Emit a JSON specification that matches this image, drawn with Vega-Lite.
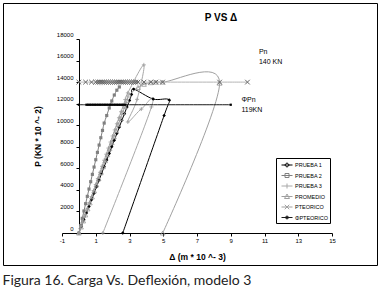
{
  "$schema": "https://vega.github.io/schema/vega-lite/v6.json",
  "background": "white",
  "padding": {"left": 2, "top": 2, "right": 0, "bottom": 0},
  "config": {"view": {"stroke": "#000", "strokeWidth": 1}, "font": "Liberation Sans", "axis": {"grid": false}},
  "title": {"text": "Figura 16. Carga Vs. Deflexión, modelo 3", "orient": "bottom", "anchor": "start", "font": "Lato", "fontSize": 14, "fontWeight": "normal", "color": "#222", "offset": 8},
  "datasets": {
    "pts": [
      {"s": "PRUEBA 1", "i": 0, "x": 0, "y": 0},
      {"s": "PRUEBA 1", "i": 1, "x": 0.15, "y": 600},
      {"s": "PRUEBA 1", "i": 2, "x": 0.3, "y": 1230},
      {"s": "PRUEBA 1", "i": 3, "x": 0.45, "y": 1850},
      {"s": "PRUEBA 1", "i": 4, "x": 0.6, "y": 2460},
      {"s": "PRUEBA 1", "i": 5, "x": 0.75, "y": 3080},
      {"s": "PRUEBA 1", "i": 6, "x": 0.9, "y": 3690},
      {"s": "PRUEBA 1", "i": 7, "x": 1.05, "y": 4300},
      {"s": "PRUEBA 1", "i": 8, "x": 1.2, "y": 4920},
      {"s": "PRUEBA 1", "i": 9, "x": 1.35, "y": 5540},
      {"s": "PRUEBA 1", "i": 10, "x": 1.5, "y": 6150},
      {"s": "PRUEBA 1", "i": 11, "x": 1.65, "y": 6770},
      {"s": "PRUEBA 1", "i": 12, "x": 1.8, "y": 7380},
      {"s": "PRUEBA 1", "i": 13, "x": 1.95, "y": 8000},
      {"s": "PRUEBA 1", "i": 14, "x": 2.1, "y": 8610},
      {"s": "PRUEBA 1", "i": 15, "x": 2.25, "y": 9230},
      {"s": "PRUEBA 1", "i": 16, "x": 2.4, "y": 9840},
      {"s": "PRUEBA 1", "i": 17, "x": 2.55, "y": 10460},
      {"s": "PRUEBA 1", "i": 18, "x": 2.7, "y": 11070},
      {"s": "PRUEBA 1", "i": 19, "x": 2.85, "y": 11690},
      {"s": "PRUEBA 1", "i": 20, "x": 3.0, "y": 12300},
      {"s": "PRUEBA 1", "i": 21, "x": 3.12, "y": 12850},
      {"s": "PRUEBA 1", "i": 22, "x": 3.25, "y": 13350},
      {"s": "PRUEBA 1", "i": 23, "x": 4.4, "y": 12430},
      {"s": "PRUEBA 1", "i": 24, "x": 5.35, "y": 12340},
      {"s": "PRUEBA 1", "i": 25, "x": 5.05, "y": 10900},
      {"s": "PRUEBA 1", "i": 26, "x": 2.6, "y": 0},

      {"s": "PRUEBA 2", "i": 0, "x": 0, "y": 0},
      {"s": "PRUEBA 2", "i": 1, "x": 0.1, "y": 680},
      {"s": "PRUEBA 2", "i": 2, "x": 0.2, "y": 1360},
      {"s": "PRUEBA 2", "i": 3, "x": 0.3, "y": 2040},
      {"s": "PRUEBA 2", "i": 4, "x": 0.4, "y": 2720},
      {"s": "PRUEBA 2", "i": 5, "x": 0.5, "y": 3400},
      {"s": "PRUEBA 2", "i": 6, "x": 0.6, "y": 4080},
      {"s": "PRUEBA 2", "i": 7, "x": 0.7, "y": 4760},
      {"s": "PRUEBA 2", "i": 8, "x": 0.8, "y": 5440},
      {"s": "PRUEBA 2", "i": 9, "x": 0.9, "y": 6120},
      {"s": "PRUEBA 2", "i": 10, "x": 1.0, "y": 6800},
      {"s": "PRUEBA 2", "i": 11, "x": 1.1, "y": 7480},
      {"s": "PRUEBA 2", "i": 12, "x": 1.2, "y": 8160},
      {"s": "PRUEBA 2", "i": 13, "x": 1.3, "y": 8840},
      {"s": "PRUEBA 2", "i": 14, "x": 1.4, "y": 9520},
      {"s": "PRUEBA 2", "i": 15, "x": 1.5, "y": 10200},
      {"s": "PRUEBA 2", "i": 16, "x": 1.65, "y": 10900},
      {"s": "PRUEBA 2", "i": 17, "x": 1.8, "y": 11600},
      {"s": "PRUEBA 2", "i": 18, "x": 1.95, "y": 12250},
      {"s": "PRUEBA 2", "i": 19, "x": 2.1, "y": 12800},
      {"s": "PRUEBA 2", "i": 20, "x": 2.25, "y": 13250},
      {"s": "PRUEBA 2", "i": 21, "x": 2.4, "y": 13550},

      {"s": "PRUEBA 3", "i": 0, "x": 0, "y": 0},
      {"s": "PRUEBA 3", "i": 1, "x": 0.125, "y": 560},
      {"s": "PRUEBA 3", "i": 2, "x": 0.25, "y": 1120},
      {"s": "PRUEBA 3", "i": 3, "x": 0.375, "y": 1690},
      {"s": "PRUEBA 3", "i": 4, "x": 0.5, "y": 2250},
      {"s": "PRUEBA 3", "i": 5, "x": 0.625, "y": 2810},
      {"s": "PRUEBA 3", "i": 6, "x": 0.75, "y": 3380},
      {"s": "PRUEBA 3", "i": 7, "x": 0.875, "y": 3940},
      {"s": "PRUEBA 3", "i": 8, "x": 1.0, "y": 4500},
      {"s": "PRUEBA 3", "i": 9, "x": 1.125, "y": 5060},
      {"s": "PRUEBA 3", "i": 10, "x": 1.25, "y": 5630},
      {"s": "PRUEBA 3", "i": 11, "x": 1.375, "y": 6190},
      {"s": "PRUEBA 3", "i": 12, "x": 1.5, "y": 6750},
      {"s": "PRUEBA 3", "i": 13, "x": 1.625, "y": 7310},
      {"s": "PRUEBA 3", "i": 14, "x": 1.75, "y": 7880},
      {"s": "PRUEBA 3", "i": 15, "x": 1.875, "y": 8440},
      {"s": "PRUEBA 3", "i": 16, "x": 2.0, "y": 9000},
      {"s": "PRUEBA 3", "i": 17, "x": 2.125, "y": 9560},
      {"s": "PRUEBA 3", "i": 18, "x": 2.25, "y": 10130},
      {"s": "PRUEBA 3", "i": 19, "x": 2.375, "y": 10690},
      {"s": "PRUEBA 3", "i": 20, "x": 2.5, "y": 11250},
      {"s": "PRUEBA 3", "i": 21, "x": 2.625, "y": 11810},
      {"s": "PRUEBA 3", "i": 22, "x": 2.75, "y": 12380},
      {"s": "PRUEBA 3", "i": 23, "x": 2.9, "y": 13000},
      {"s": "PRUEBA 3", "i": 24, "x": 3.85, "y": 15600},
      {"s": "PRUEBA 3", "i": 25, "x": 3.45, "y": 12400},
      {"s": "PRUEBA 3", "i": 26, "x": 2.9, "y": 10300},
      {"s": "PRUEBA 3", "i": 27, "x": 3.7, "y": 11500},
      {"s": "PRUEBA 3", "i": 28, "x": 4.3, "y": 11700},
      {"s": "PRUEBA 3", "i": 29, "x": 1.42, "y": 0},

      {"s": "PROMEDIO", "i": 0, "x": 0, "y": 0},
      {"s": "PROMEDIO", "i": 1, "x": 0.13, "y": 560},
      {"s": "PROMEDIO", "i": 2, "x": 0.26, "y": 1120},
      {"s": "PROMEDIO", "i": 3, "x": 0.39, "y": 1680},
      {"s": "PROMEDIO", "i": 4, "x": 0.52, "y": 2240},
      {"s": "PROMEDIO", "i": 5, "x": 0.65, "y": 2800},
      {"s": "PROMEDIO", "i": 6, "x": 0.78, "y": 3350},
      {"s": "PROMEDIO", "i": 7, "x": 0.91, "y": 3910},
      {"s": "PROMEDIO", "i": 8, "x": 1.04, "y": 4470},
      {"s": "PROMEDIO", "i": 9, "x": 1.17, "y": 5030},
      {"s": "PROMEDIO", "i": 10, "x": 1.3, "y": 5590},
      {"s": "PROMEDIO", "i": 11, "x": 1.43, "y": 6150},
      {"s": "PROMEDIO", "i": 12, "x": 1.56, "y": 6710},
      {"s": "PROMEDIO", "i": 13, "x": 1.69, "y": 7270},
      {"s": "PROMEDIO", "i": 14, "x": 1.82, "y": 7830},
      {"s": "PROMEDIO", "i": 15, "x": 1.95, "y": 8390},
      {"s": "PROMEDIO", "i": 16, "x": 2.08, "y": 8940},
      {"s": "PROMEDIO", "i": 17, "x": 2.21, "y": 9500},
      {"s": "PROMEDIO", "i": 18, "x": 2.34, "y": 10060},
      {"s": "PROMEDIO", "i": 19, "x": 2.47, "y": 10620},
      {"s": "PROMEDIO", "i": 20, "x": 2.6, "y": 11180},
      {"s": "PROMEDIO", "i": 21, "x": 2.73, "y": 11740},
      {"s": "PROMEDIO", "i": 22, "x": 2.86, "y": 12300},
      {"s": "PROMEDIO", "i": 23, "x": 2.98, "y": 12800},
      {"s": "PROMEDIO", "i": 24, "x": 3.5, "y": 13500},
      {"s": "PROMEDIO", "i": 25, "x": 3.86, "y": 13800},
      {"s": "PROMEDIO", "i": 26, "x": 4.26, "y": 13950},
      {"s": "PROMEDIO", "i": 27, "x": 4.56, "y": 14000},
      {"s": "PROMEDIO", "i": 28, "x": 4.96, "y": 14000},
      {"s": "PROMEDIO", "i": 29, "x": 8.34, "y": 13900},
      {"s": "PROMEDIO", "i": 30, "x": 4.97, "y": 0},

      {"s": "PTEORICO", "i": 0, "x": 0, "y": 14000},
      {"s": "PTEORICO", "i": 1, "x": 0.4, "y": 14000},
      {"s": "PTEORICO", "i": 2, "x": 0.75, "y": 14000},
      {"s": "PTEORICO", "i": 3, "x": 1.0, "y": 14000},
      {"s": "PTEORICO", "i": 4, "x": 1.125, "y": 14000},
      {"s": "PTEORICO", "i": 5, "x": 1.25, "y": 14000},
      {"s": "PTEORICO", "i": 6, "x": 1.375, "y": 14000},
      {"s": "PTEORICO", "i": 7, "x": 1.5, "y": 14000},
      {"s": "PTEORICO", "i": 8, "x": 1.625, "y": 14000},
      {"s": "PTEORICO", "i": 9, "x": 1.75, "y": 14000},
      {"s": "PTEORICO", "i": 10, "x": 1.875, "y": 14000},
      {"s": "PTEORICO", "i": 11, "x": 2.0, "y": 14000},
      {"s": "PTEORICO", "i": 12, "x": 2.125, "y": 14000},
      {"s": "PTEORICO", "i": 13, "x": 2.25, "y": 14000},
      {"s": "PTEORICO", "i": 14, "x": 2.375, "y": 14000},
      {"s": "PTEORICO", "i": 15, "x": 2.5, "y": 14000},
      {"s": "PTEORICO", "i": 16, "x": 2.625, "y": 14000},
      {"s": "PTEORICO", "i": 17, "x": 2.75, "y": 14000},
      {"s": "PTEORICO", "i": 18, "x": 2.875, "y": 14000},
      {"s": "PTEORICO", "i": 19, "x": 3.0, "y": 14000},
      {"s": "PTEORICO", "i": 20, "x": 3.125, "y": 14000},
      {"s": "PTEORICO", "i": 21, "x": 3.25, "y": 14000},
      {"s": "PTEORICO", "i": 22, "x": 3.375, "y": 14000},
      {"s": "PTEORICO", "i": 23, "x": 3.5, "y": 14000},
      {"s": "PTEORICO", "i": 24, "x": 3.86, "y": 14000},
      {"s": "PTEORICO", "i": 25, "x": 4.26, "y": 14000},
      {"s": "PTEORICO", "i": 26, "x": 4.56, "y": 14000},
      {"s": "PTEORICO", "i": 27, "x": 4.96, "y": 14000},
      {"s": "PTEORICO", "i": 28, "x": 8.34, "y": 14000},
      {"s": "PTEORICO", "i": 29, "x": 9.99, "y": 14000},

      {"s": "ΦPTEORICO", "i": 0, "x": 0, "y": 11900},
      {"s": "ΦPTEORICO", "i": 1, "x": 0.45, "y": 11900},
      {"s": "ΦPTEORICO", "i": 2, "x": 0.55, "y": 11900},
      {"s": "ΦPTEORICO", "i": 3, "x": 0.65, "y": 11900},
      {"s": "ΦPTEORICO", "i": 4, "x": 0.75, "y": 11900},
      {"s": "ΦPTEORICO", "i": 5, "x": 0.85, "y": 11900},
      {"s": "ΦPTEORICO", "i": 6, "x": 0.95, "y": 11900},
      {"s": "ΦPTEORICO", "i": 7, "x": 1.05, "y": 11900},
      {"s": "ΦPTEORICO", "i": 8, "x": 1.15, "y": 11900},
      {"s": "ΦPTEORICO", "i": 9, "x": 1.25, "y": 11900},
      {"s": "ΦPTEORICO", "i": 10, "x": 1.35, "y": 11900},
      {"s": "ΦPTEORICO", "i": 11, "x": 1.45, "y": 11900},
      {"s": "ΦPTEORICO", "i": 12, "x": 1.55, "y": 11900},
      {"s": "ΦPTEORICO", "i": 13, "x": 1.65, "y": 11900},
      {"s": "ΦPTEORICO", "i": 14, "x": 1.75, "y": 11900},
      {"s": "ΦPTEORICO", "i": 15, "x": 1.85, "y": 11900},
      {"s": "ΦPTEORICO", "i": 16, "x": 1.95, "y": 11900},
      {"s": "ΦPTEORICO", "i": 17, "x": 2.05, "y": 11900},
      {"s": "ΦPTEORICO", "i": 18, "x": 2.15, "y": 11900},
      {"s": "ΦPTEORICO", "i": 19, "x": 2.25, "y": 11900},
      {"s": "ΦPTEORICO", "i": 20, "x": 2.35, "y": 11900},
      {"s": "ΦPTEORICO", "i": 21, "x": 2.45, "y": 11900},
      {"s": "ΦPTEORICO", "i": 22, "x": 2.55, "y": 11900},
      {"s": "ΦPTEORICO", "i": 23, "x": 2.65, "y": 11900},
      {"s": "ΦPTEORICO", "i": 24, "x": 2.75, "y": 11900},
      {"s": "ΦPTEORICO", "i": 25, "x": 9.0, "y": 11900}
    ],
    "ann": [
      {"x": 10.67, "y": 16820, "t": "Pn"},
      {"x": 10.67, "y": 15900, "t": "140 KN"},
      {"x": 9.63, "y": 12300, "t": "ΦPn"},
      {"x": 9.63, "y": 11450, "t": "119KN"}
    ]
  },
  "vconcat": [
    {
      "width": 374,
      "height": 262,
      "title": {"text": "P VS Δ", "orient": "top", "anchor": "middle", "frame": "group", "offset": -20, "dx": 31, "fontSize": 10, "fontWeight": "bold", "font": "Liberation Sans", "color": "#000"},
      "data": {"name": "pts"},
      "encoding": {
        "x": {"field": "x", "type": "quantitative",
          "scale": {"domain": [-1, 15], "range": [59, 329], "nice": false, "zero": false},
          "axis": {"title": "Δ (m * 10 ^- 3)", "orient": "bottom", "offset": -32, "values": [-1, 1, 3, 5, 7, 9, 11, 13, 15], "labelExpr": "'' + datum.value", "domainColor": "#000", "tickColor": "#000", "tickSize": 3, "labelFontSize": 6, "labelColor": "#000", "labelPadding": 1, "labelFlush": false, "labelOverlap": false, "titleFontSize": 8.5, "titleFontWeight": "bold", "titleColor": "#000", "titlePadding": 9}},
        "y": {"field": "y", "type": "quantitative",
          "scale": {"domain": [0, 18000], "range": [230, 36], "nice": false, "zero": false},
          "axis": {"title": "P (KN * 10 ^- 2)", "orient": "left", "offset": -76, "values": [0, 2000, 4000, 6000, 8000, 10000, 12000, 14000, 16000, 18000], "format": "d", "labelOffset": -5, "domainColor": "#000", "tickColor": "#000", "tickSize": 3, "labelFontSize": 6, "labelColor": "#000", "labelPadding": 3, "labelOverlap": false, "titleFontSize": 8.5, "titleFontWeight": "bold", "titleColor": "#000", "titlePadding": 14}}
      },
      "layer": [
        {
          "mark": {"type": "point", "filled": false, "size": 100, "strokeWidth": 1, "opacity": 0},
          "encoding": {
            "color": {"field": "s", "type": "nominal", "scale": {"domain": ["PRUEBA 1", "PRUEBA 2", "PRUEBA 3", "PROMEDIO", "PTEORICO", "ΦPTEORICO"], "range": ["#000000", "#808080", "#a8a8a8", "#a0a0a0", "#a0a0a0", "#1a1a1a"]},
              "legend": {"title": null, "orient": "none", "legendX": 273, "legendY": 155, "strokeColor": "#000", "fillColor": "#fff", "padding": 1.5, "rowPadding": 0.5, "symbolSize": 100, "symbolStrokeWidth": 1, "symbolOpacity": 1, "labelOffset": 6.5, "labelFont": "Liberation Sans", "labelFontSize": 5.5, "labelColor": "#000"}},
            "shape": {"field": "s", "type": "nominal", "scale": {"domain": ["PRUEBA 1", "PRUEBA 2", "PRUEBA 3", "PROMEDIO", "PTEORICO", "ΦPTEORICO"],
              "range": ["M-0.3,0H1.9M0.8,-0.45L1.25,0L0.8,0.45L0.35,0Z", "M-0.3,0H1.9M0.4,-0.4H1.2V0.4H0.4Z", "M-0.3,0H1.9M0.8,-0.5V0.5", "M-0.3,0H1.9M0.8,-0.5L1.3,0.4H0.3Z", "M-0.3,0H1.9M0.35,-0.45L1.25,0.45M0.35,0.45L1.25,-0.45", "M-0.3,0H1.9M0.6,-0.25H1V0.25H0.6Z"]}}
          }
        },
        {
          "mark": {"type": "line", "interpolate": "cardinal"},
          "encoding": {
            "stroke": {"field": "s", "type": "nominal", "scale": {"domain": ["PRUEBA 1", "PRUEBA 2", "PRUEBA 3", "PROMEDIO", "PTEORICO", "ΦPTEORICO"], "range": ["#000000", "#808080", "#a8a8a8", "#a0a0a0", "#b4b4b4", "#1a1a1a"]}, "legend": null},
            "strokeWidth": {"field": "s", "type": "nominal", "scale": {"domain": ["PRUEBA 1", "PRUEBA 2", "PRUEBA 3", "PROMEDIO", "PTEORICO", "ΦPTEORICO"], "range": [1, 1, 1, 1, 1.6, 1]}, "legend": null},
            "order": {"field": "i", "type": "quantitative"}
          }
        },
        {"transform": [{"filter": "datum.s == 'PRUEBA 1'"}], "mark": {"type": "point", "shape": "diamond", "filled": true, "size": 12, "color": "#000", "opacity": 1}},
        {"transform": [{"filter": "datum.s == 'PRUEBA 2'"}], "mark": {"type": "point", "shape": "square", "filled": true, "size": 10, "color": "#808080", "opacity": 1}},
        {"transform": [{"filter": "datum.s == 'PRUEBA 3'"}], "mark": {"type": "point", "shape": "M-1,0H1M0,-1V1", "filled": false, "size": 16, "color": "#999", "strokeWidth": 0.8, "opacity": 1}},
        {"transform": [{"filter": "datum.s == 'PROMEDIO'"}], "mark": {"type": "point", "shape": "triangle-up", "filled": false, "size": 22, "color": "#999", "strokeWidth": 0.8, "opacity": 1}},
        {"transform": [{"filter": "datum.s == 'PTEORICO'"}], "mark": {"type": "point", "shape": "M-1,-1L1,1M-1,1L1,-1", "filled": false, "size": 22, "color": "#666", "strokeWidth": 1, "opacity": 1}},
        {"transform": [{"filter": "datum.s == 'ΦPTEORICO'"}], "mark": {"type": "point", "shape": "square", "filled": true, "size": 5, "color": "#000", "opacity": 1}},
        {
          "data": {"name": "ann"},
          "mark": {"type": "text", "align": "left", "baseline": "middle", "font": "Liberation Sans", "fontSize": 7, "color": "#000"},
          "encoding": {"text": {"field": "t", "type": "nominal"}}
        }
      ]
    }
  ]
}
